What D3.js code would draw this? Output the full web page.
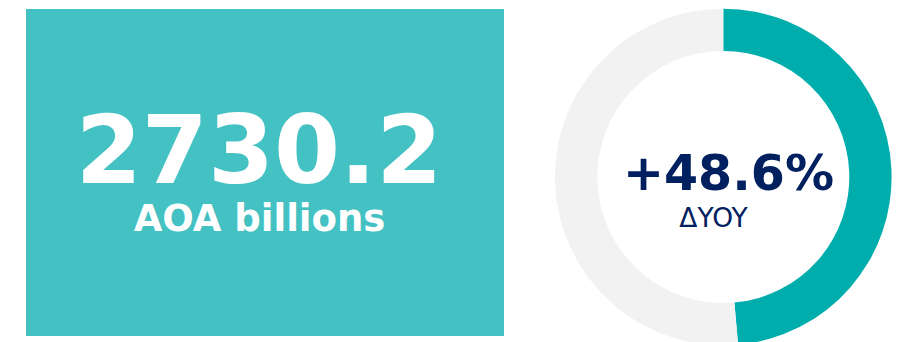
<!DOCTYPE html>
<html lang="en">
<head>
    <meta charset="UTF-8">
    <title>KPI</title>
    <script src="https://cdn.jsdelivr.net/npm/d3@7"></script>
    <style>
        body { margin: 0; background: #fff; }
        svg { display: block; font-family: "DejaVu Sans", Verdana, sans-serif; }
        .big { font-size: 95px; font-weight: bold; fill: #fff; text-anchor: middle; }
        .unit { font-size: 37px; font-weight: bold; fill: #fff; text-anchor: middle; }
        .pct { font-size: 49px; font-weight: bold; fill: #002060; text-anchor: middle; }
        .sub { font-size: 26.5px; fill: #002060; text-anchor: middle; }
    </style>
</head>
<body>
    <div id="chart"></div>
    <script>
        // data
        const kpiValue = [2730.2];
        const kpiUnit = ["AOA billions"];
        const changeLabels = ["change", "rest"];
        const changeValues = [48.6, 100 - 48.6];
        const changeCaption = ["ΔYOY"];

        const width = 898;
        const height = 342;

        const svg = d3.select("#chart").append("svg")
            .attr("width", width)
            .attr("height", height);

        // tarjeta con el valor
        const card = svg.append("g");
        card.append("rect")
            .attr("x", 26)
            .attr("y", 9)
            .attr("width", 478)
            .attr("height", 327)
            .attr("fill", "#43c1c3");

        card.append("text")
            .attr("class", "big")
            .attr("x", 259)
            .attr("y", 183)
            .text(d3.format(".1f")(kpiValue[0]));

        card.append("text")
            .attr("class", "unit")
            .attr("x", 259.5)
            .attr("y", 231)
            .text(kpiUnit[0]);

        // dona
        const cx = 723.3, cy = 177;
        const g = svg.append("g")
            .attr("transform", `translate(${cx}, ${cy})`);

        const pie = d3.pie()
            .sort(null)
            .value(d => d);

        const arc = d3.arc()
            .innerRadius(126)
            .outerRadius(168.3);

        const color = d3.scaleOrdinal()
            .domain(changeLabels)
            .range(["#00adad", "#f2f2f2"]);

        g.selectAll("path")
            .data(pie(changeValues))
            .enter().append("path")
            .attr("d", arc)
            .attr("fill", (d, i) => color(changeLabels[i]));

        svg.append("text")
            .attr("class", "pct")
            .attr("x", 728.5)
            .attr("y", 190)
            .text("+" + d3.format(".1f")(changeValues[0]) + "%");

        svg.append("text")
            .attr("class", "sub")
            .attr("x", 713.5)
            .attr("y", 227)
            .text(changeCaption[0]);
    </script>
</body>
</html>
